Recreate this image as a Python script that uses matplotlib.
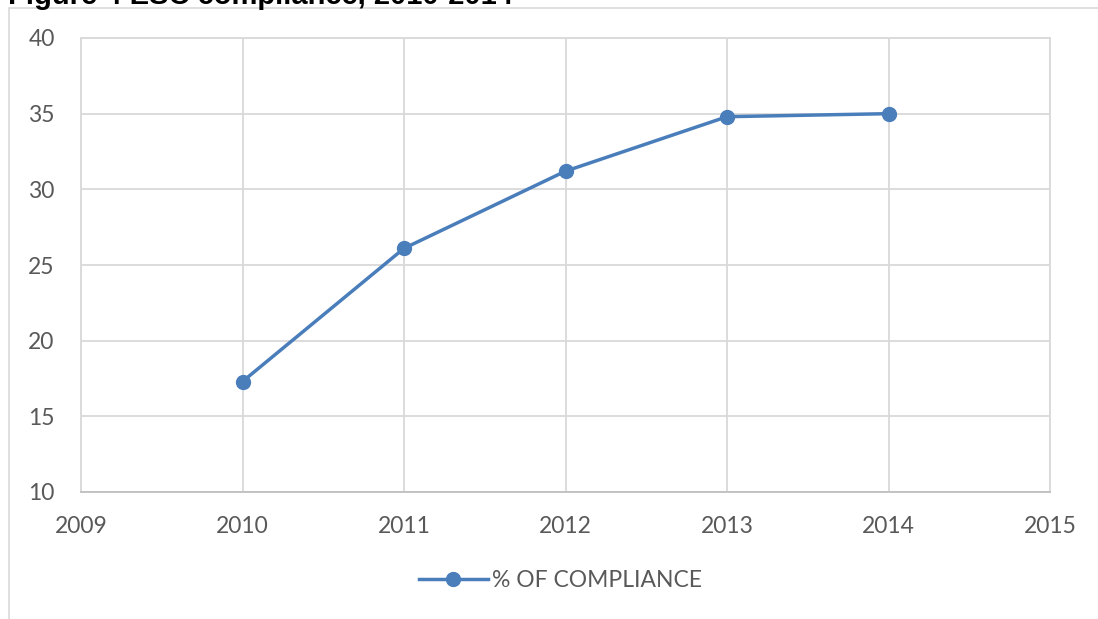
import matplotlib
matplotlib.use("Agg")
import matplotlib.pyplot as plt
from matplotlib.patches import Rectangle

years = [2010, 2011, 2012, 2013, 2014]
compliance = [17.3, 26.1, 31.2, 34.8, 35.0]
series_label = "% OF COMPLIANCE"
title = "Figure 4 ESC compliance, 2010-2014"

plt.rcParams['font.family'] = ['Lato', 'DejaVu Sans']

fig = plt.figure(figsize=(10.98, 6.19), dpi=100)
fig.patch.set_facecolor('white')

# outer chart frame
fig.patches.append(Rectangle((9/1098, -0.01), 1.1, (619-8)/619 + 0.01,
                             transform=fig.transFigure, fill=False,
                             edgecolor='#D9D9D9', linewidth=1.2, zorder=0))

# partially clipped title (as in the reference)
fig.text(8/1098, 1.0 - 4/619, title, fontsize=21, fontweight='bold',
         family=['Liberation Sans', 'DejaVu Sans'], ha='left', va='baseline', color='black')

ax = fig.add_axes([81/1098, (619-492)/619, (1050-81)/1098, (492-38)/619])
ax.plot(years, compliance, color='#4A7EBB', linewidth=2.5, marker='o',
        markersize=10, label=series_label, zorder=3, clip_on=False)

ax.set_xlim(2009, 2015)
ax.set_ylim(10, 40)
ax.set_xticks(range(2009, 2016))
ax.set_yticks(range(10, 41, 5))
ax.grid(True, color='#D9D9D9', linewidth=1.3)
ax.set_axisbelow(True)
for s in ax.spines.values():
    s.set_color('#D9D9D9')
    s.set_linewidth(1.3)
ax.spines['bottom'].set_color('#BFBFBF')
ax.tick_params(length=0, labelsize=16.5, colors='#595959')
ax.tick_params(axis='x', pad=17)
ax.tick_params(axis='y', pad=19)

leg = ax.legend(loc='center', bbox_to_anchor=(0.495, -0.195), frameon=False,
                fontsize=16.5, handlelength=3.0, handletextpad=0.2)
for t in leg.get_texts():
    t.set_color('#595959')

fig.savefig('out.png', dpi=100, facecolor='white')
